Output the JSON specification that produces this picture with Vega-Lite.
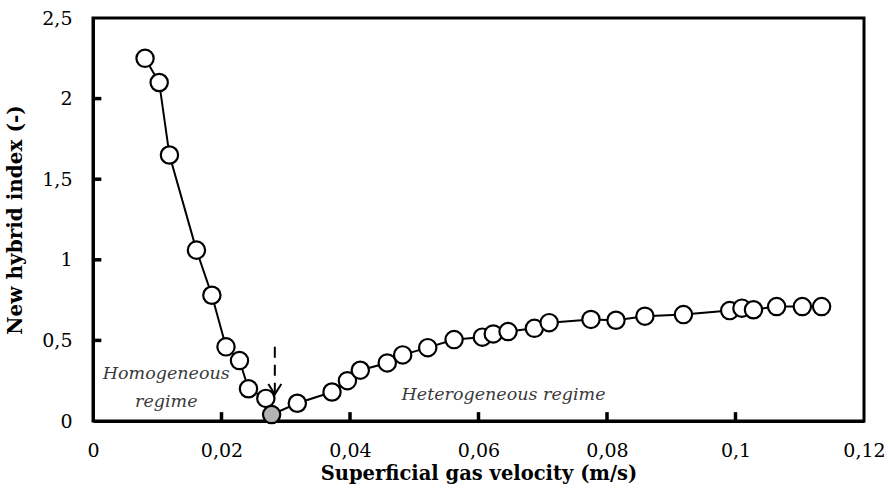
{
  "$schema": "https://vega.github.io/schema/vega-lite/v6.json",
  "autosize": {"type": "none"},
  "padding": {"left": 93, "top": 18, "right": 26, "bottom": 70},
  "width": 771,
  "height": 403,
  "background": "white",
  "config": {
    "view": {"stroke": "black", "strokeWidth": 3},
    "font": "DejaVu Serif",
    "axis": {
      "grid": false,
      "domainColor": "black",
      "domainWidth": 3,
      "ticks": false,
      "labelFont": "DejaVu Serif",
      "labelFontSize": 19,
      "labelColor": "black",
      "labelFlush": false,
      "labelOverlap": false,
      "titleFont": "DejaVu Serif",
      "titleFontWeight": "bold",
      "titleColor": "black"
    }
  },
  "datasets": {
    "series": [
      {"u": 0.0081, "index": 2.25, "kind": "open"},
      {"u": 0.0103, "index": 2.10, "kind": "open"},
      {"u": 0.0119, "index": 1.65, "kind": "open"},
      {"u": 0.0161, "index": 1.06, "kind": "open"},
      {"u": 0.0185, "index": 0.78, "kind": "open"},
      {"u": 0.0207, "index": 0.46, "kind": "open"},
      {"u": 0.0228, "index": 0.375, "kind": "open"},
      {"u": 0.0242, "index": 0.20, "kind": "open"},
      {"u": 0.0269, "index": 0.14, "kind": "open"},
      {"u": 0.0278, "index": 0.04, "kind": "transition"},
      {"u": 0.0318, "index": 0.11, "kind": "open"},
      {"u": 0.0372, "index": 0.18, "kind": "open"},
      {"u": 0.0396, "index": 0.25, "kind": "open"},
      {"u": 0.0416, "index": 0.315, "kind": "open"},
      {"u": 0.0458, "index": 0.36, "kind": "open"},
      {"u": 0.0482, "index": 0.41, "kind": "open"},
      {"u": 0.0521, "index": 0.455, "kind": "open"},
      {"u": 0.0562, "index": 0.505, "kind": "open"},
      {"u": 0.0606, "index": 0.52, "kind": "open"},
      {"u": 0.0623, "index": 0.54, "kind": "open"},
      {"u": 0.0646, "index": 0.555, "kind": "open"},
      {"u": 0.0687, "index": 0.575, "kind": "open"},
      {"u": 0.0710, "index": 0.61, "kind": "open"},
      {"u": 0.0775, "index": 0.63, "kind": "open"},
      {"u": 0.0814, "index": 0.625, "kind": "open"},
      {"u": 0.0859, "index": 0.65, "kind": "open"},
      {"u": 0.0919, "index": 0.66, "kind": "open"},
      {"u": 0.0991, "index": 0.685, "kind": "open"},
      {"u": 0.1010, "index": 0.70, "kind": "open"},
      {"u": 0.1028, "index": 0.69, "kind": "open"},
      {"u": 0.1064, "index": 0.71, "kind": "open"},
      {"u": 0.1104, "index": 0.71, "kind": "open"},
      {"u": 0.1134, "index": 0.71, "kind": "open"}
    ],
    "xTicks": [
      {"u": 0.02, "index": 0},
      {"u": 0.04, "index": 0},
      {"u": 0.06, "index": 0},
      {"u": 0.08, "index": 0},
      {"u": 0.1, "index": 0}
    ],
    "yTicks": [
      {"u": 0, "index": 0.5},
      {"u": 0, "index": 1},
      {"u": 0, "index": 1.5},
      {"u": 0, "index": 2}
    ],
    "marker": [
      {"u": 0.0283, "top": 0.46, "tip": 0.165}
    ],
    "regimes": [
      {"u": 0.0114, "index": 0.29, "label": "Homogeneous"},
      {"u": 0.0114, "index": 0.115, "label": "regime"},
      {"u": 0.0639, "index": 0.164, "label": "Heterogeneous regime"}
    ]
  },
  "layer": [
    {
      "data": {"name": "series"},
      "mark": {"type": "line", "color": "black", "strokeWidth": 2},
      "encoding": {
        "x": {
          "field": "u", "type": "quantitative",
          "scale": {"domain": [0, 0.12], "nice": false, "zero": true},
          "axis": {
            "values": [0, 0.02, 0.04, 0.06, 0.08, 0.1, 0.12],
            "labelExpr": "replace(format(datum.value, '~f'), '.', ',')",
            "labelPadding": 20,
            "title": "Superficial gas velocity (m/s)",
            "titleFontSize": 19.5,
            "titlePadding": 4
          }
        },
        "y": {
          "field": "index", "type": "quantitative",
          "scale": {"domain": [0, 2.5], "nice": false},
          "axis": {
            "values": [0, 0.5, 1, 1.5, 2, 2.5],
            "labelExpr": "replace(format(datum.value, '~f'), '.', ',')",
            "labelPadding": 21,
            "title": "New hybrid index (-)",
            "titleFontSize": 20,
            "titlePadding": 16
          }
        }
      }
    },
    {
      "data": {"name": "xTicks"},
      "mark": {"type": "rule", "color": "black", "strokeWidth": 3.5},
      "encoding": {
        "x": {"field": "u", "type": "quantitative"},
        "y": {"field": "index", "type": "quantitative"},
        "y2": {"datum": 0.055}
      }
    },
    {
      "data": {"name": "yTicks"},
      "mark": {"type": "rule", "color": "black", "strokeWidth": 3.5},
      "encoding": {
        "x": {"field": "u", "type": "quantitative"},
        "x2": {"datum": 0.0013},
        "y": {"field": "index", "type": "quantitative"}
      }
    },
    {
      "data": {"name": "series"},
      "mark": {"type": "point", "filled": true, "size": 300, "stroke": "black", "strokeWidth": 2.2, "opacity": 1},
      "encoding": {
        "x": {"field": "u", "type": "quantitative"},
        "y": {"field": "index", "type": "quantitative"},
        "fill": {
          "field": "kind", "type": "nominal",
          "scale": {"domain": ["open", "transition"], "range": ["white", "#b3b3b3"]},
          "legend": null
        }
      }
    },
    {
      "data": {"name": "marker"},
      "mark": {"type": "rule", "color": "black", "strokeWidth": 2, "strokeDash": [11, 7]},
      "encoding": {
        "x": {"field": "u", "type": "quantitative"},
        "y": {"field": "top", "type": "quantitative"},
        "y2": {"field": "tip"}
      }
    },
    {
      "data": {"name": "marker"},
      "mark": {"type": "point", "shape": "M -1 -1.6 L 0 0 L 1 -1.6", "size": 169, "filled": false, "stroke": "black", "strokeWidth": 2, "opacity": 1},
      "encoding": {
        "x": {"field": "u", "type": "quantitative"},
        "y": {"field": "tip", "type": "quantitative"}
      }
    },
    {
      "data": {"name": "regimes"},
      "mark": {"type": "text", "font": "DejaVu Serif", "fontStyle": "italic", "fontSize": 17.5, "color": "#3a3a3a", "align": "center", "baseline": "middle"},
      "encoding": {
        "x": {"field": "u", "type": "quantitative"},
        "y": {"field": "index", "type": "quantitative"},
        "text": {"field": "label"}
      }
    }
  ]
}
